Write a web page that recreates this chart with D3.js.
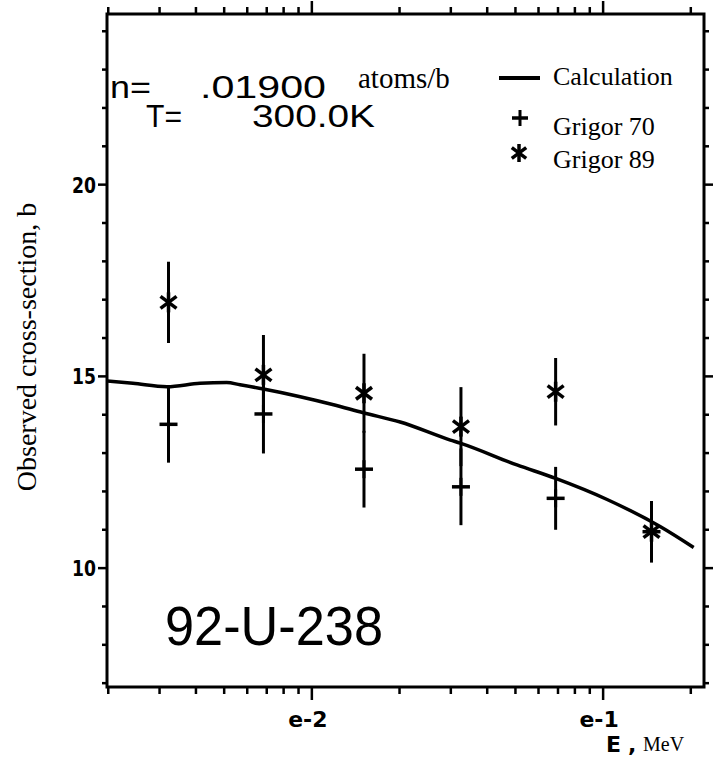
<!DOCTYPE html>
<html>
<head>
<meta charset="utf-8">
<script src="https://cdn.jsdelivr.net/npm/d3@7"></script>
<style>
  body { margin: 0; background: #fff; }
  svg { display: block; }
</style>
</head>
<body>
<svg id="chart" width="717" height="757"></svg>
<script>
// energies (MeV) of the measured points
const energies = [0.00322, 0.00682, 0.0151, 0.0325, 0.0687, 0.1466];

// Grigor 70 (plus markers)
const grigor70 = [13.75, 14.02, 12.58, 12.12, 11.82, 10.95];
const grigor70Err = [1.0, 1.03, 1.0, 1.0, 0.82, 0.8];

// Grigor 89 (asterisk markers)
const grigor89 = [16.93, 15.04, 14.56, 13.69, 14.60, 10.95];
const grigor89Err = [1.06, 1.04, 1.03, 1.03, 0.88, 0.8];

// calculated curve
const calcE = [0.00198, 0.00243, 0.00318, 0.00413, 0.0051, 0.00567, 0.00682, 0.00912, 0.01187,
               0.01503, 0.0201, 0.0299, 0.0323, 0.0506, 0.0687, 0.1032, 0.1574, 0.2046];
const calcV = [14.88, 14.82, 14.73, 14.82, 14.84, 14.78, 14.67, 14.47, 14.26,
               14.05, 13.81, 13.34, 13.26, 12.69, 12.34, 11.79, 11.08, 10.54];

const yTickLabels = [10, 15, 20];
const xTickLabels = [{ v: 0.01, t: "e-2" }, { v: 0.1, t: "e-1" }];

const svg = d3.select("#chart");

const x = d3.scaleLog().domain([0.00198, 0.222]).range([107, 704]);
const y = d3.scaleLinear().domain([6.9, 24.45]).range([687, 14]);

const ink = "#000";
const serif = "'Liberation Serif', 'Times New Roman', serif";
const sans = "'Liberation Sans', Arial, sans-serif";
const bold = "'DejaVu Sans', sans-serif";

// frame
svg.append("rect")
    .attr("x", x.range()[0]).attr("y", y.range()[1])
    .attr("width", x.range()[1] - x.range()[0])
    .attr("height", y.range()[0] - y.range()[1])
    .attr("fill", "none").attr("stroke", ink).attr("stroke-width", 3);

// log ticks along bottom and top
const minorX = [];
[0.001, 0.01, 0.1].forEach(dec => {
    for (let k = 1; k < 10; k++) {
        const v = dec * k;
        if (v >= x.domain()[0] && v <= x.domain()[1]) minorX.push(v);
    }
});

const xTicks = svg.append("g").attr("class", "x-ticks");
minorX.forEach(v => {
    const major = Math.abs(Math.log10(v) - Math.round(Math.log10(v))) < 1e-6;
    const len = major ? 13 : 7;
    xTicks.append("line")
        .attr("x1", x(v)).attr("x2", x(v))
        .attr("y1", y.range()[0]).attr("y2", y.range()[0] + len)
        .attr("stroke", ink).attr("stroke-width", 2.5);
    xTicks.append("line")
        .attr("x1", x(v)).attr("x2", x(v))
        .attr("y1", y.range()[1]).attr("y2", y.range()[1] - len)
        .attr("stroke", ink).attr("stroke-width", 2.5);
});

// linear ticks on left and right
const yTicks = svg.append("g").attr("class", "y-ticks");
d3.range(7, 25).forEach(v => {
    const major = v % 5 === 0;
    const len = major ? 9 : 5;
    yTicks.append("line")
        .attr("x1", x.range()[0] - len).attr("x2", x.range()[0])
        .attr("y1", y(v)).attr("y2", y(v))
        .attr("stroke", ink).attr("stroke-width", 2.5);
    yTicks.append("line")
        .attr("x1", x.range()[1]).attr("x2", x.range()[1] + len)
        .attr("y1", y(v)).attr("y2", y(v))
        .attr("stroke", ink).attr("stroke-width", 2.5);
});

// tick labels
svg.selectAll(".ylab")
    .data(yTickLabels)
    .enter().append("text")
    .attr("class", "ylab")
    .attr("x", 96)
    .attr("y", d => y(d) + 8)
    .attr("text-anchor", "end")
    .attr("textLength", 24)
    .attr("lengthAdjust", "spacingAndGlyphs")
    .style("font-family", bold)
    .style("font-weight", "bold")
    .style("font-size", "22px")
    .text(d => d);

svg.selectAll(".xlab")
    .data(xTickLabels)
    .enter().append("text")
    .attr("class", "xlab")
    .attr("x", d => x(d.v) - 4)
    .attr("y", 727)
    .attr("text-anchor", "middle")
    .style("font-family", bold)
    .style("font-weight", "bold")
    .style("font-size", "22px")
    .text(d => d.t);

// axis titles
svg.append("text")
    .attr("transform", "translate(36,347) rotate(-90)")
    .attr("text-anchor", "middle")
    .style("font-family", serif)
    .style("font-size", "28px")
    .text("Observed cross-section, b");

svg.append("text")
    .attr("x", 606).attr("y", 752)
    .style("font-family", bold).style("font-weight", "bold").style("font-size", "22px")
    .text("E");
svg.append("text")
    .attr("x", 628).attr("y", 752)
    .style("font-family", bold).style("font-weight", "bold").style("font-size", "22px")
    .text(",");
svg.append("text")
    .attr("x", 643).attr("y", 751)
    .style("font-family", serif).style("font-size", "20px")
    .text("MeV");

// calculation curve
const line = d3.line()
    .x((d, i) => x(calcE[i]))
    .y(d => y(d))
    .curve(d3.curveMonotoneX);

svg.append("path")
    .datum(calcV)
    .attr("d", line)
    .attr("fill", "none")
    .attr("stroke", ink)
    .attr("stroke-width", 3.5);

// marker helpers
function drawPlus(g, cx, cy, s) {
    g.append("line").attr("x1", cx - s).attr("x2", cx + s).attr("y1", cy).attr("y2", cy)
        .attr("stroke", ink).attr("stroke-width", 3.5);
    g.append("line").attr("x1", cx).attr("x2", cx).attr("y1", cy - s).attr("y2", cy + s)
        .attr("stroke", ink).attr("stroke-width", 3);
}
function drawStar(g, cx, cy, s) {
    [[0, 1], [0.8, 0.6], [-0.8, 0.6]].forEach(([dx, dy]) => {
        g.append("line")
            .attr("x1", cx - dx * s).attr("x2", cx + dx * s)
            .attr("y1", cy - dy * s).attr("y2", cy + dy * s)
            .attr("stroke", ink).attr("stroke-width", 3.5);
    });
}

// error bars + markers
const pts = svg.append("g").attr("class", "points");
energies.forEach((e, i) => {
    pts.append("line")
        .attr("x1", x(e)).attr("x2", x(e))
        .attr("y1", y(grigor70[i] - grigor70Err[i])).attr("y2", y(grigor70[i] + grigor70Err[i]))
        .attr("stroke", ink).attr("stroke-width", 3);
    pts.append("line")
        .attr("x1", x(e)).attr("x2", x(e))
        .attr("y1", y(grigor89[i] - grigor89Err[i])).attr("y2", y(grigor89[i] + grigor89Err[i]))
        .attr("stroke", ink).attr("stroke-width", 3);
    drawPlus(pts, x(e), y(grigor70[i]), 9);
    drawStar(pts, x(e), y(grigor89[i]), 10);
});

// info text (wide plotter lettering, stretched to the measured widths)
const info = svg.append("g").attr("class", "info");
function plotText(tx, ty, w, size, str) {
    info.append("text").attr("x", tx).attr("y", ty)
        .attr("textLength", w).attr("lengthAdjust", "spacingAndGlyphs")
        .style("font-family", sans).style("font-size", size + "px")
        .text(str);
}
plotText(110, 98, 41, 31, "n=");
plotText(200, 98, 126, 31, ".01900");
plotText(146, 127, 36, 31, "T=");
plotText(252, 127, 123, 31, "300.0K");
info.append("text").attr("x", 358).attr("y", 88)
    .style("font-family", serif).style("font-size", "29px").text("atoms/b");

info.append("text").attr("x", 165).attr("y", 645)
    .attr("textLength", 218).attr("lengthAdjust", "spacingAndGlyphs")
    .style("font-family", sans).style("font-size", "56px").text("92-U-238");

// legend
const leg = svg.append("g").attr("class", "legend");
leg.append("line").attr("x1", 499).attr("x2", 540).attr("y1", 78).attr("y2", 78)
    .attr("stroke", ink).attr("stroke-width", 4);
leg.append("text").attr("x", 553).attr("y", 85).style("font-family", serif).style("font-size", "26px").text("Calculation");
drawPlus(leg, 520, 118, 8);
leg.append("text").attr("x", 553).attr("y", 135).style("font-family", serif).style("font-size", "26px").text("Grigor 70");
drawStar(leg, 519, 153, 9);
leg.append("text").attr("x", 553).attr("y", 168).style("font-family", serif).style("font-size", "26px").text("Grigor 89");
</script>
</body>
</html>
